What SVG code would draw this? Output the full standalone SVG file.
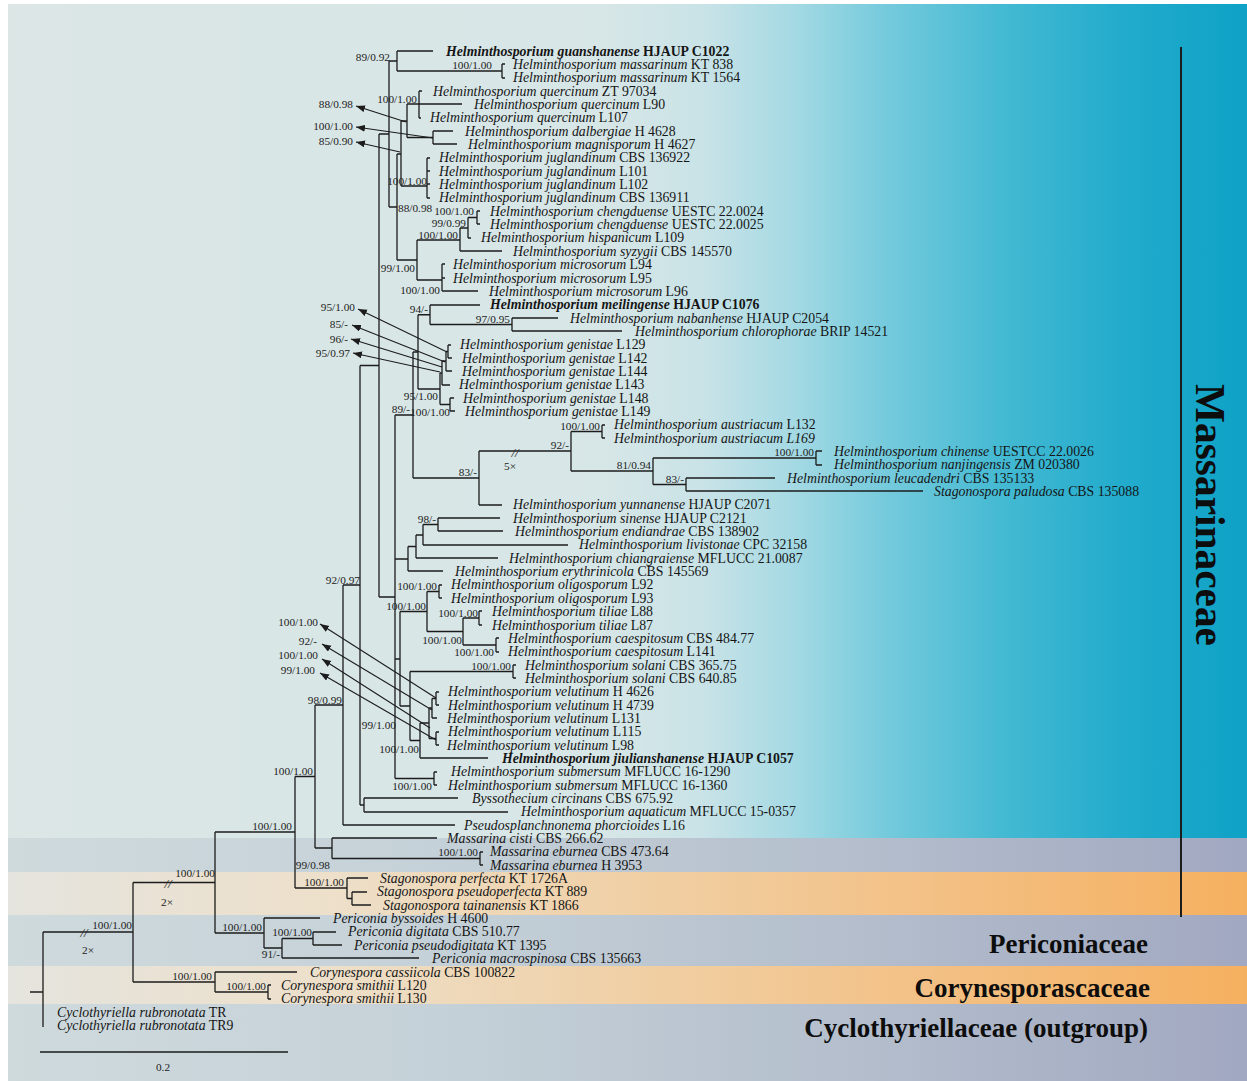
<svg xmlns="http://www.w3.org/2000/svg" width="1247" height="1081" viewBox="0 0 1247 1081">
<defs>
<linearGradient id="gC" gradientUnits="userSpaceOnUse" x1="8" y1="0" x2="1247" y2="0">
<stop offset="0" stop-color="#dbe6e5"/><stop offset="0.48" stop-color="#d7e6e7"/><stop offset="0.56" stop-color="#c9e3e7"/><stop offset="0.63" stop-color="#a7dae4"/><stop offset="0.71" stop-color="#74cadc"/><stop offset="0.8" stop-color="#45bad3"/><stop offset="0.9" stop-color="#22abcc"/><stop offset="1" stop-color="#0ea2c6"/>
</linearGradient>
<linearGradient id="gG" gradientUnits="userSpaceOnUse" x1="8" y1="0" x2="1247" y2="0">
<stop offset="0" stop-color="#cfdadd"/><stop offset="0.35" stop-color="#c5d1d8"/><stop offset="0.7" stop-color="#b3bdcc"/><stop offset="1" stop-color="#a1a8c1"/>
</linearGradient>
<linearGradient id="gO" gradientUnits="userSpaceOnUse" x1="8" y1="0" x2="1247" y2="0">
<stop offset="0" stop-color="#e5e4de"/><stop offset="0.25" stop-color="#ede0cb"/><stop offset="0.5" stop-color="#f0d0a6"/><stop offset="0.75" stop-color="#f3c084"/><stop offset="1" stop-color="#f5b05f"/>
</linearGradient>
<marker id="ah" markerUnits="userSpaceOnUse" markerWidth="10" markerHeight="8" refX="9" refY="3.5" orient="auto-start-reverse"><path d="M0,0 L9,3.5 L0,7 z" fill="#1c1c1c"/></marker>
</defs>
<style>
.tx{font-family:"Liberation Serif","Times New Roman",serif;font-size:13.8px;fill:#151515}
.i{font-style:italic}
.bd{font-weight:bold}
.bs{font-family:"Liberation Serif","Times New Roman",serif;font-size:11.3px;fill:#222;text-anchor:end}
.mk{font-family:"Liberation Serif","Times New Roman",serif;font-size:11.3px;fill:#222;text-anchor:middle}
.sl{font-family:"Liberation Serif","Times New Roman",serif;font-size:13px;font-style:italic;fill:#222;text-anchor:middle}
.br{fill:none;stroke:#1c1c1c;stroke-width:1.3}
.ar{fill:none;stroke:#1c1c1c;stroke-width:1.1;marker-start:url(#ah)}
.fam{font-family:"Liberation Serif","Times New Roman",serif;font-weight:bold;font-size:27px;fill:#0d0d0d;text-anchor:end}
</style>
<rect x="0" y="0" width="1247" height="1081" fill="#ffffff"/>
<g id="bands">
<rect x="8" y="4" width="1239" height="834" fill="url(#gC)"/>
<rect x="8" y="838" width="1239" height="34" fill="url(#gG)"/>
<rect x="8" y="872" width="1239" height="43" fill="url(#gO)"/>
<rect x="8" y="915" width="1239" height="51" fill="url(#gG)"/>
<rect x="8" y="966" width="1239" height="38" fill="url(#gO)"/>
<rect x="8" y="1004" width="1239" height="77" fill="url(#gG)"/>
</g>
<g id="families">
<g id="fam-massarinaceae"><path class="br" d="M1181 47 V917" style="stroke-width:2"/><text class="fam" style="font-size:42px;text-anchor:middle" textLength="262" lengthAdjust="spacingAndGlyphs" transform="translate(1196 515) rotate(90)">Massarinaceae</text></g>
<g id="fam-periconiaceae"><text class="fam" x="1148" y="953">Periconiaceae</text></g>
<g id="fam-corynesporascaceae"><text class="fam" x="1150" y="997">Corynesporascaceae</text></g>
<g id="fam-cyclothyriellaceae"><text class="fam" x="1148" y="1037">Cyclothyriellaceae (outgroup)</text></g>
</g>
<g id="connectors">
<path class="br" d="M30 992 H43 M43 932 V1027 M43 932 H133 M133 882.5 V982 M133 882.5 H215 M133 982 H215
M215 972 V992 M215 972 H297 M215 992 H268 M268 985 V999 M268 985 H271 M268 999 H271
M215 832 V933 M215 832 H295 M215 933 H264 M264 918 V948 M264 918 H320 M264 948 H282
M282 938.5 V958 M282 938.5 H313 M282 958 H419 M313 932 V945 M313 932 H336 M313 945 H342
M295 776.5 V888 M295 776.5 H315 M295 888 H347 M347 878 V898.5 M347 878 H368 M347 898.5 H352
M352 892 V905 M352 892 H367 M352 905 H371
M315 705 V848 M315 705 H343 M315 848 H332 M332 838 V858.5 M332 838 H437 M332 858.5 H480
M480 852 V865 M480 852 H483 M480 865 H483
M343 585 V825 M343 585 H360 M343 825 H455
M360 365.5 V805 M360 365.5 H379 M360 805 H364 M364 798 V812 M364 798 H458 M364 812 H508
M379 134 V597 M379 134 H389 M379 597 H395
M389 61 V207 M389 61 H397 M389 207 H397
M397 51 V71 M397 51 H433 M397 71 H502 M502 64 V78 M502 64 H505 M502 78 H505
M397 154 V260 M397 154 H401 M397 260 H417
M401 121 V186 M401 121 H407 M401 186 H427
M407 104 V137.5 M407 104 H462 M407 137.5 H433
M419 91 V118 M419 91 H422 M419 118 H421
M433 131 V144 M433 131 H453 M433 144 H457
M427 158 V198 M427 158 H430 M427 171 H430 M427 184 H430 M427 198 H430
M417 240 V280 M417 240 H460 M417 280 H442
M460 228 V251 M460 228 H468 M460 251 H502
M468 217.5 V238 M468 217.5 H477 M468 238 H471
M477 211 V224 M477 211 H480 M477 224 H480
M442 264 V291 M442 264 H445 M442 278 H445 M442 291 H478
M395 415 V778.5 M395 415 H413 M395 559 H408 M395 659 H400 M395 778.5 H434
M413 352 V478 M413 352 H418 M413 478 H479
M418 314.75 V389 M418 314.75 H430 M418 389 H440
M430 305 V324.5 M430 305 H480 M430 324.5 H512
M512 318 V331 M512 318 H558 M512 331 H622
M440 373 V404.5 M440 373 H442 M440 404.5 H450
M442 361 V385 M442 361 H446 M442 385 H450
M446 351.5 V371 M446 351.5 H448 M446 371 H452
M448 345 V358 M448 345 H451 M448 358 H452
M450 398 V411 M450 398 H454 M450 411 H455
M479 451 V505 M479 451 H571 M479 505 H502
M571 431.5 V471 M571 431.5 H602 M571 471 H653
M602 425 V438 M602 425 H605 M602 438 H605
M653 458 V484.5 M653 458 H816 M653 484.5 H686
M816 451 V465 M816 451 H822 M816 465 H822
M686 478 V491 M686 478 H775 M686 491 H923
M408 546.5 V571 M408 546.5 H416 M408 571 H443
M416 535 V558 M416 535 H423 M416 558 H498
M423 524.5 V545 M423 524.5 H438 M423 545 H568
M438 518 V531 M438 518 H500 M438 531 H503
M400 611.5 V706 M400 611.5 H427 M400 706 H410
M427 591.5 V631.5 M427 591.5 H439 M427 631.5 H463
M439 585 V598 M439 585 H442 M439 598 H442
M463 618 V645 M463 618 H479 M463 645 H496
M479 611 V625 M479 611 H482 M479 625 H482
M496 638 V652 M496 638 H499 M496 652 H499
M410 671.5 V740.5 M410 671.5 H513 M410 740.5 H420
M513 665 V678 M513 665 H516 M513 678 H516
M420 723 V758 M420 723 H429 M420 758 H488
M429 708 V738.5 M429 708 H432 M429 738.5 H436
M432 698.5 V718 M432 698.5 H436 M432 718 H437
M436 692 V705 M436 692 H439 M436 705 H439
M436 732 V745 M436 732 H439 M436 745 H439
M434 772 V785 M434 772 H437 M434 785 H437
M40 1052 H288"/>
<path class="ar" d="M356 106 L406 122"/>
<path class="ar" d="M356 127 L433 138"/>
<path class="ar" d="M356 142 L400 152"/>
<path class="ar" d="M358 309 L447 352"/>
<path class="ar" d="M352 325 L445 362"/>
<path class="ar" d="M351 339 L442 367"/>
<path class="ar" d="M353 353 L440 372"/>
<path class="ar" d="M320 624 L436 698"/>
<path class="ar" d="M322 644 L432 710"/>
<path class="ar" d="M322 659 L430 728"/>
<path class="ar" d="M320 673 L436 740"/>
</g>
<g id="support">
<text class="bs" x="390" y="61">89/0.92</text>
<text class="bs" x="492" y="69">100/1.00</text>
<text class="bs" x="417" y="103">100/1.00</text>
<text class="bs" x="353" y="108">88/0.98</text>
<text class="bs" x="353" y="130">100/1.00</text>
<text class="bs" x="353" y="145">85/0.90</text>
<text class="bs" x="427" y="185">100/1.00</text>
<text class="bs" x="398" y="212" style="text-anchor:start">88/0.98</text>
<text class="bs" x="474" y="215">100/1.00</text>
<text class="bs" x="466" y="227">99/0.99</text>
<text class="bs" x="458" y="239">100/1.00</text>
<text class="bs" x="415" y="272">99/1.00</text>
<text class="bs" x="440" y="294">100/1.00</text>
<text class="bs" x="428" y="313">94/-</text>
<text class="bs" x="510" y="323">97/0.95</text>
<text class="bs" x="355" y="311">95/1.00</text>
<text class="bs" x="348" y="328">85/-</text>
<text class="bs" x="348" y="343">96/-</text>
<text class="bs" x="350" y="357">95/0.97</text>
<text class="bs" x="438" y="400">95/1.00</text>
<text class="bs" x="410" y="413">89/-</text>
<text class="bs" x="450" y="416">100/1.00</text>
<text class="bs" x="600" y="430">100/1.00</text>
<text class="bs" x="569" y="449">92/-</text>
<text class="bs" x="651" y="469">81/0.94</text>
<text class="bs" x="814" y="456">100/1.00</text>
<text class="bs" x="684" y="483">83/-</text>
<text class="bs" x="477" y="476">83/-</text>
<text class="bs" x="436" y="523">98/-</text>
<text class="bs" x="360" y="584">92/0.97</text>
<text class="bs" x="437" y="590">100/1.00</text>
<text class="bs" x="426" y="610">100/1.00</text>
<text class="bs" x="478" y="617">100/1.00</text>
<text class="bs" x="462" y="644">100/1.00</text>
<text class="bs" x="494" y="656">100/1.00</text>
<text class="bs" x="318" y="626">100/1.00</text>
<text class="bs" x="317" y="645">92/-</text>
<text class="bs" x="318" y="659">100/1.00</text>
<text class="bs" x="315" y="674">99/1.00</text>
<text class="bs" x="511" y="670">100/1.00</text>
<text class="bs" x="342" y="704">98/0.99</text>
<text class="bs" x="396" y="729">99/1.00</text>
<text class="bs" x="419" y="753">100/1.00</text>
<text class="bs" x="313" y="775">100/1.00</text>
<text class="bs" x="432" y="790">100/1.00</text>
<text class="bs" x="292" y="830">100/1.00</text>
<text class="bs" x="478" y="856">100/1.00</text>
<text class="bs" x="330" y="869">99/0.98</text>
<text class="bs" x="344" y="886">100/1.00</text>
<text class="bs" x="215" y="877">100/1.00</text>
<text class="bs" x="262" y="931">100/1.00</text>
<text class="bs" x="312" y="936">100/1.00</text>
<text class="bs" x="280" y="958">91/-</text>
<text class="bs" x="212" y="980">100/1.00</text>
<text class="bs" x="266" y="990">100/1.00</text>
<text class="bs" x="132" y="929">100/1.00</text>
<text class="sl" x="168" y="888">//</text>
<text class="sl" x="84" y="937">//</text>
<text class="sl" x="515" y="457">//</text>
<text class="mk" x="167" y="906">2×</text>
<text class="mk" x="88" y="954">2×</text>
<text class="mk" x="510" y="470">5×</text>
<text class="mk" x="163" y="1071">0.2</text>
</g>
<g id="taxa">
<g id="t01"><text class="tx bd" x="446" y="55.6"><tspan class="i">Helminthosporium guanshanense</tspan>  HJAUP C1022</text></g>
<g id="t02"><text class="tx" x="513" y="68.9"><tspan class="i">Helminthosporium massarinum</tspan> KT 838</text></g>
<g id="t03"><text class="tx" x="513" y="82.3"><tspan class="i">Helminthosporium massarinum</tspan> KT 1564</text></g>
<g id="t04"><text class="tx" x="433" y="95.6"><tspan class="i">Helminthosporium quercinum</tspan> ZT 97034</text></g>
<g id="t05"><text class="tx" x="474" y="109"><tspan class="i">Helminthosporium quercinum</tspan> L90</text></g>
<g id="t06"><text class="tx" x="430" y="122.3"><tspan class="i">Helminthosporium quercinum</tspan> L107</text></g>
<g id="t07"><text class="tx" x="465" y="135.7"><tspan class="i">Helminthosporium dalbergiae</tspan> H 4628</text></g>
<g id="t08"><text class="tx" x="468" y="149"><tspan class="i">Helminthosporium magnisporum</tspan> H 4627</text></g>
<g id="t09"><text class="tx" x="439" y="162.4"><tspan class="i">Helminthosporium juglandinum</tspan> CBS 136922</text></g>
<g id="t10"><text class="tx" x="439" y="175.7"><tspan class="i">Helminthosporium juglandinum</tspan> L101</text></g>
<g id="t11"><text class="tx" x="439" y="189.1"><tspan class="i">Helminthosporium juglandinum</tspan> L102</text></g>
<g id="t12"><text class="tx" x="439" y="202.4"><tspan class="i">Helminthosporium juglandinum</tspan> CBS 136911</text></g>
<g id="t13"><text class="tx" x="490" y="215.7"><tspan class="i">Helminthosporium chengduense</tspan> UESTC 22.0024</text></g>
<g id="t14"><text class="tx" x="490" y="229.1"><tspan class="i">Helminthosporium chengduense</tspan> UESTC 22.0025</text></g>
<g id="t15"><text class="tx" x="481" y="242.4"><tspan class="i">Helminthosporium hispanicum</tspan> L109</text></g>
<g id="t16"><text class="tx" x="513" y="255.8"><tspan class="i">Helminthosporium syzygii</tspan> CBS 145570</text></g>
<g id="t17"><text class="tx" x="453" y="269.1"><tspan class="i">Helminthosporium microsorum</tspan> L94</text></g>
<g id="t18"><text class="tx" x="453" y="282.5"><tspan class="i">Helminthosporium microsorum</tspan> L95</text></g>
<g id="t19"><text class="tx" x="489" y="295.8"><tspan class="i">Helminthosporium microsorum</tspan> L96</text></g>
<g id="t20"><text class="tx bd" x="490" y="309.2"><tspan class="i">Helminthosporium meilingense</tspan> HJAUP C1076</text></g>
<g id="t21"><text class="tx" x="570" y="322.5"><tspan class="i">Helminthosporium nabanhense</tspan> HJAUP C2054</text></g>
<g id="t22"><text class="tx" x="635" y="335.9"><tspan class="i">Helminthosporium chlorophorae</tspan> BRIP 14521</text></g>
<g id="t23"><text class="tx" x="460" y="349.2"><tspan class="i">Helminthosporium genistae</tspan> L129</text></g>
<g id="t24"><text class="tx" x="462" y="362.5"><tspan class="i">Helminthosporium genistae</tspan> L142</text></g>
<g id="t25"><text class="tx" x="462" y="375.9"><tspan class="i">Helminthosporium genistae</tspan> L144</text></g>
<g id="t26"><text class="tx" x="459" y="389.2"><tspan class="i">Helminthosporium genistae</tspan> L143</text></g>
<g id="t27"><text class="tx" x="463" y="402.6"><tspan class="i">Helminthosporium genistae</tspan> L148</text></g>
<g id="t28"><text class="tx" x="465" y="415.9"><tspan class="i">Helminthosporium genistae</tspan> L149</text></g>
<g id="t29"><text class="tx" x="614" y="429.3"><tspan class="i">Helminthosporium austriacum</tspan> L132</text></g>
<g id="t30"><text class="tx i" x="614" y="442.6">Helminthosporium austriacum L169</text></g>
<g id="t31"><text class="tx" x="834" y="456"><tspan class="i">Helminthosporium chinense</tspan> UESTCC 22.0026</text></g>
<g id="t32"><text class="tx" x="834" y="469.3"><tspan class="i">Helminthosporium nanjingensis</tspan> ZM 020380</text></g>
<g id="t33"><text class="tx" x="787" y="482.7"><tspan class="i">Helminthosporium leucadendri</tspan> CBS 135133</text></g>
<g id="t34"><text class="tx" x="934" y="496"><tspan class="i">Stagonospora paludosa</tspan> CBS 135088</text></g>
<g id="t35"><text class="tx" x="513" y="509.3"><tspan class="i">Helminthosporium yunnanense</tspan> HJAUP C2071</text></g>
<g id="t36"><text class="tx" x="513" y="522.7"><tspan class="i">Helminthosporium sinense</tspan> HJAUP C2121</text></g>
<g id="t37"><text class="tx" x="515" y="536"><tspan class="i">Helminthosporium endiandrae</tspan> CBS 138902</text></g>
<g id="t38"><text class="tx" x="579" y="549.4"><tspan class="i">Helminthosporium livistonae</tspan> CPC 32158</text></g>
<g id="t39"><text class="tx" x="509" y="562.7"><tspan class="i">Helminthosporium chiangraiense</tspan> MFLUCC 21.0087</text></g>
<g id="t40"><text class="tx" x="455" y="576.1"><tspan class="i">Helminthosporium erythrinicola</tspan> CBS 145569</text></g>
<g id="t41"><text class="tx" x="451" y="589.4"><tspan class="i">Helminthosporium oligosporum</tspan> L92</text></g>
<g id="t42"><text class="tx" x="451" y="602.8"><tspan class="i">Helminthosporium oligosporum</tspan> L93</text></g>
<g id="t43"><text class="tx" x="492" y="616.1"><tspan class="i">Helminthosporium tiliae</tspan> L88</text></g>
<g id="t44"><text class="tx" x="492" y="629.5"><tspan class="i">Helminthosporium tiliae</tspan> L87</text></g>
<g id="t45"><text class="tx" x="508" y="642.8"><tspan class="i">Helminthosporium caespitosum</tspan> CBS 484.77</text></g>
<g id="t46"><text class="tx" x="508" y="656.1"><tspan class="i">Helminthosporium caespitosum</tspan> L141</text></g>
<g id="t47"><text class="tx" x="525" y="669.5"><tspan class="i">Helminthosporium solani</tspan> CBS 365.75</text></g>
<g id="t48"><text class="tx" x="525" y="682.8"><tspan class="i">Helminthosporium solani</tspan> CBS 640.85</text></g>
<g id="t49"><text class="tx" x="448" y="696.2"><tspan class="i">Helminthosporium velutinum</tspan> H 4626</text></g>
<g id="t50"><text class="tx" x="448" y="709.5"><tspan class="i">Helminthosporium velutinum</tspan> H 4739</text></g>
<g id="t51"><text class="tx" x="447" y="722.9"><tspan class="i">Helminthosporium velutinum</tspan> L131</text></g>
<g id="t52"><text class="tx" x="448" y="736.2"><tspan class="i">Helminthosporium velutinum</tspan> L115</text></g>
<g id="t53"><text class="tx" x="447" y="749.6"><tspan class="i">Helminthosporium velutinum</tspan> L98</text></g>
<g id="t54"><text class="tx bd" x="502" y="762.9"><tspan class="i">Helminthosporium jiulianshanense</tspan> HJAUP C1057</text></g>
<g id="t55"><text class="tx" x="451" y="776.3"><tspan class="i">Helminthosporium submersum</tspan> MFLUCC 16-1290</text></g>
<g id="t56"><text class="tx" x="448" y="789.6"><tspan class="i">Helminthosporium submersum</tspan> MFLUCC 16-1360</text></g>
<g id="t57"><text class="tx" x="472" y="803"><tspan class="i">Byssothecium circinans</tspan> CBS 675.92</text></g>
<g id="t58"><text class="tx" x="521" y="816.3"><tspan class="i">Helminthosporium aquaticum</tspan> MFLUCC 15-0357</text></g>
<g id="t59"><text class="tx" x="464" y="829.7"><tspan class="i">Pseudosplanchnonema phorcioides</tspan> L16</text></g>
<g id="t60"><text class="tx" x="447" y="843"><tspan class="i">Massarina cisti</tspan> CBS 266.62</text></g>
<g id="t61"><text class="tx" x="490" y="856.3"><tspan class="i">Massarina eburnea</tspan> CBS 473.64</text></g>
<g id="t62"><text class="tx" x="490" y="869.7"><tspan class="i">Massarina eburnea</tspan> H 3953</text></g>
<g id="t63"><text class="tx" x="380" y="883"><tspan class="i">Stagonospora perfecta</tspan> KT 1726A</text></g>
<g id="t64"><text class="tx" x="377" y="896.4"><tspan class="i">Stagonospora pseudoperfecta</tspan> KT 889</text></g>
<g id="t65"><text class="tx" x="383" y="909.7"><tspan class="i">Stagonospora tainanensis</tspan> KT 1866</text></g>
<g id="t66"><text class="tx" x="333" y="923.1"><tspan class="i">Periconia byssoides</tspan> H 4600</text></g>
<g id="t67"><text class="tx" x="348" y="936.4"><tspan class="i">Periconia digitata</tspan> CBS 510.77</text></g>
<g id="t68"><text class="tx" x="354" y="949.8"><tspan class="i">Periconia pseudodigitata</tspan> KT 1395</text></g>
<g id="t69"><text class="tx" x="432" y="963.1"><tspan class="i">Periconia macrospinosa</tspan> CBS 135663</text></g>
<g id="t70"><text class="tx" x="310" y="976.5"><tspan class="i">Corynespora cassiicola</tspan> CBS 100822</text></g>
<g id="t71"><text class="tx" x="281" y="989.8"><tspan class="i">Corynespora smithii</tspan> L120</text></g>
<g id="t72"><text class="tx" x="281" y="1003.2"><tspan class="i">Corynespora smithii</tspan> L130</text></g>
<g id="t73"><text class="tx" x="57" y="1016.5"><tspan class="i">Cyclothyriella rubronotata</tspan> TR</text></g>
<g id="t74"><text class="tx" x="57" y="1029.8"><tspan class="i">Cyclothyriella rubronotata</tspan> TR9</text></g>
</g>
</svg>
